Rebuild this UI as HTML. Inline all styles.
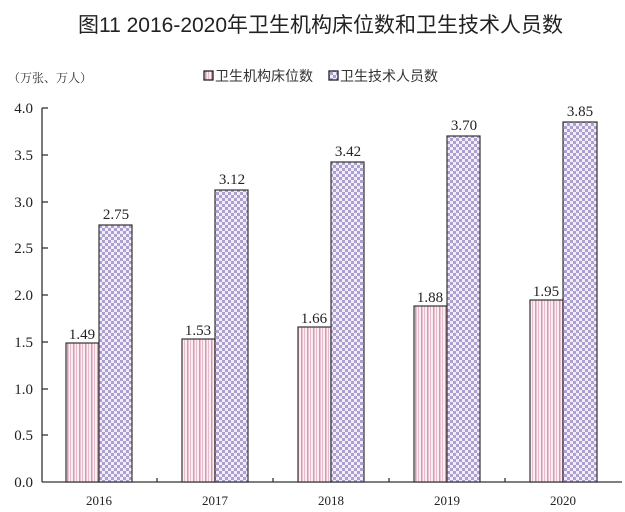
<!DOCTYPE html>
<html><head><meta charset="utf-8"><style>body{margin:0;background:#fff}svg{display:block}</style></head><body>
<svg width="625" height="512" xmlns="http://www.w3.org/2000/svg" font-family="'Liberation Serif','Noto Serif CJK SC',serif">
<defs>
<pattern id="pk" width="6" height="6" patternUnits="userSpaceOnUse"><rect width="6" height="6" fill="#fbeef3"/><rect x="1" width="1.5" height="6" fill="#d49ab2"/><rect x="4" width="1" height="6" fill="#e6bccd"/></pattern>
<pattern id="pu" width="6" height="6" patternUnits="userSpaceOnUse"><rect width="6" height="6" fill="#f2eef8"/><rect width="3" height="3" fill="#ad9fcf"/><rect x="3" y="3" width="3" height="3" fill="#ad9fcf"/></pattern>
</defs>
<text x="78" y="32" font-family="'Liberation Sans','Noto Sans CJK SC',sans-serif" font-size="21" textLength="485" lengthAdjust="spacingAndGlyphs" fill="#222">图11  2016-2020年卫生机构床位数和卫生技术人员数</text>
<text x="8" y="82" font-size="12" font-family="'Liberation Serif','Noto Serif CJK SC',serif" fill="#333">（万张、万人）</text>
<rect x="204" y="71" width="9" height="9" fill="url(#pk)" stroke="#222" stroke-width="1.3"/>
<text x="215" y="81" font-size="14" font-family="'Liberation Sans','Noto Sans CJK SC',sans-serif" fill="#333">卫生机构床位数</text>
<rect x="329" y="71" width="9" height="9" fill="url(#pu)" stroke="#222" stroke-width="1.3"/>
<text x="340" y="81" font-size="14" font-family="'Liberation Sans','Noto Sans CJK SC',sans-serif" fill="#333">卫生技术人员数</text>
<g stroke="#333" stroke-width="1.3">
<line x1="42" y1="108" x2="42" y2="482"/>
<line x1="42" y1="482" x2="622" y2="482"/>
<line x1="42" y1="108" x2="48" y2="108"/><line x1="42" y1="155" x2="48" y2="155"/><line x1="42" y1="202" x2="48" y2="202"/><line x1="42" y1="248" x2="48" y2="248"/><line x1="42" y1="295" x2="48" y2="295"/><line x1="42" y1="342" x2="48" y2="342"/><line x1="42" y1="389" x2="48" y2="389"/><line x1="42" y1="435" x2="48" y2="435"/>
<line x1="157" y1="478" x2="157" y2="482"/><line x1="273" y1="478" x2="273" y2="482"/><line x1="389" y1="478" x2="389" y2="482"/><line x1="505" y1="478" x2="505" y2="482"/>
</g>
<g font-size="15" fill="#222" text-anchor="end">
<text x="33" y="113">4.0</text><text x="33" y="160">3.5</text><text x="33" y="207">3.0</text><text x="33" y="253">2.5</text><text x="33" y="300">2.0</text><text x="33" y="347">1.5</text><text x="33" y="394">1.0</text><text x="33" y="440">0.5</text><text x="33" y="487">0.0</text>
</g>
<g stroke="#333" stroke-width="1.2">
<rect x="66" y="343" width="33" height="139" fill="url(#pk)"/><rect x="99" y="225" width="33" height="257" fill="url(#pu)"/>
<rect x="182" y="339" width="33" height="143" fill="url(#pk)"/><rect x="215" y="190" width="33" height="292" fill="url(#pu)"/>
<rect x="298" y="327" width="33" height="155" fill="url(#pk)"/><rect x="331" y="162" width="33" height="320" fill="url(#pu)"/>
<rect x="414" y="306" width="33" height="176" fill="url(#pk)"/><rect x="447" y="136" width="33" height="346" fill="url(#pu)"/>
<rect x="530" y="300" width="33" height="182" fill="url(#pk)"/><rect x="563" y="122" width="34" height="360" fill="url(#pu)"/>
</g>
<g font-size="15" fill="#222" text-anchor="middle">
<text x="82" y="339">1.49</text><text x="116" y="219">2.75</text>
<text x="198" y="335">1.53</text><text x="232" y="184">3.12</text>
<text x="314" y="323">1.66</text><text x="348" y="156">3.42</text>
<text x="430" y="302">1.88</text><text x="464" y="130">3.70</text>
<text x="546" y="296">1.95</text><text x="580" y="116">3.85</text>
</g>
<g font-size="13" fill="#222" text-anchor="middle">
<text x="99" y="505">2016</text><text x="215" y="505">2017</text><text x="331" y="505">2018</text><text x="447" y="505">2019</text><text x="563" y="505">2020</text>
</g>
</svg>
</body></html>
